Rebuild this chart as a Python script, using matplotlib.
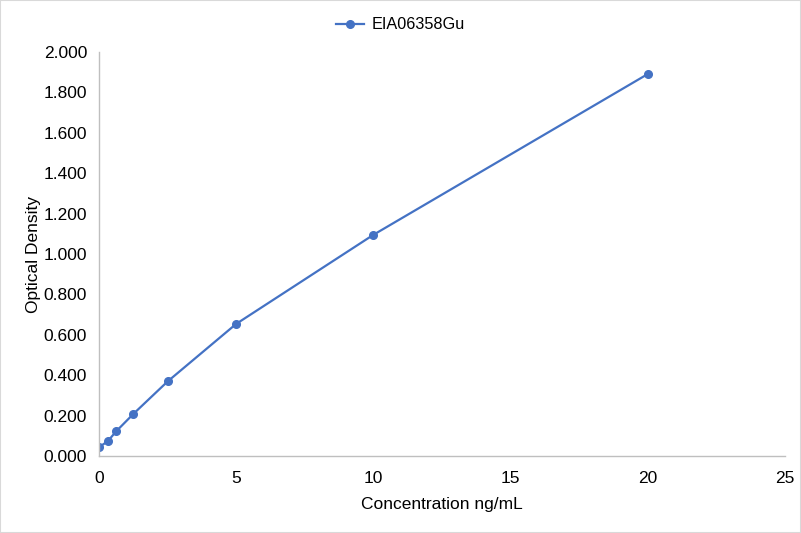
import matplotlib
matplotlib.use("Agg")
import matplotlib.pyplot as plt
from matplotlib.patches import Rectangle

conc = [0, 0.3125, 0.625, 1.25, 2.5, 5, 10, 20]
od = [0.044, 0.072, 0.122, 0.208, 0.369, 0.654, 1.095, 1.891]
series_name = "EIA06358Gu"
yticks = [0.0, 0.2, 0.4, 0.6, 0.8, 1.0, 1.2, 1.4, 1.6, 1.8, 2.0]
xticks = [0, 5, 10, 15, 20, 25]

plt.rcParams['font.family'] = ['Liberation Sans', 'DejaVu Sans']
fig = plt.figure(figsize=(8.01, 5.33), dpi=100)
ax = fig.add_axes([99/801, 1-456/533, (785-99)/801, (456-52)/533])
color = '#4472C4'
ax.plot(conc, od, color=color, lw=1.6, marker='o', ms=5.5, label=series_name)
ax.set_xlim(0, 25)
ax.set_ylim(0, 2.0)
ax.set_xticks(xticks)
ax.set_yticks(yticks)
ax.set_yticklabels([f"{v:.3f}" for v in yticks])
for s in ['top', 'right']:
    ax.spines[s].set_visible(False)
for s in ['left', 'bottom']:
    ax.spines[s].set_color('#BFBFBF')
    ax.spines[s].set_linewidth(1)
ax.tick_params(length=0, labelsize=12.5, colors='#000000')
ax.tick_params(axis='y', pad=8.5)
ax.tick_params(axis='x', pad=11)
ax.set_xlabel("Concentration ng/mL", fontsize=12.5, labelpad=8)
ax.set_ylabel("Optical Density", fontsize=12.5, labelpad=2)
fig.legend(loc='upper center', bbox_to_anchor=(0.5, 0.995), frameon=False, fontsize=11.7,
           handlelength=1.7, handletextpad=0.45)
fig.patches.append(Rectangle((0, 0), 1, 1, transform=fig.transFigure, fill=False,
                             edgecolor='#D9D9D9', lw=1.5))
fig.savefig("out.png", dpi=100)
